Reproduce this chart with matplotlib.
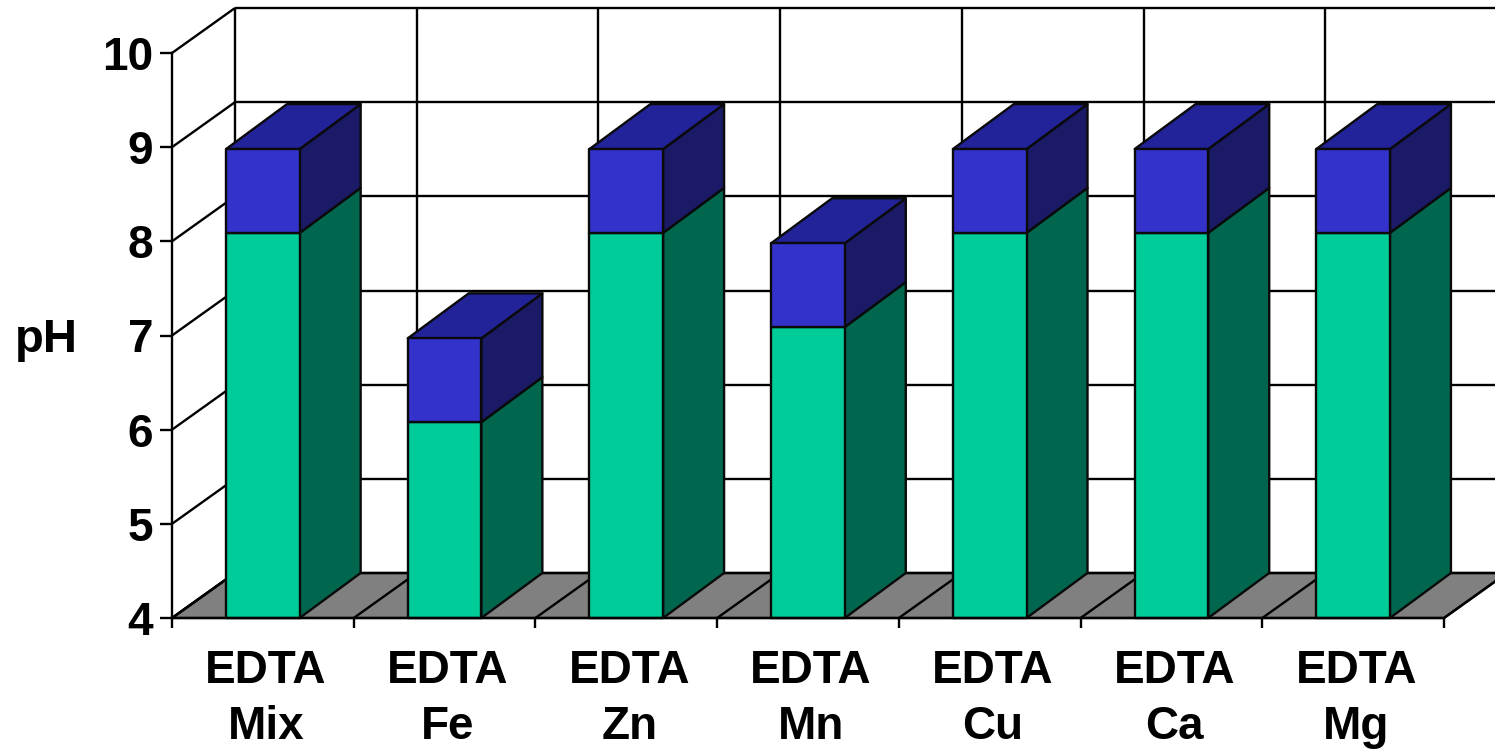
import matplotlib
matplotlib.use('Agg')
import matplotlib.pyplot as plt
from matplotlib.patches import Polygon

categories = ['EDTA\nMix', 'EDTA\nFe', 'EDTA\nZn', 'EDTA\nMn', 'EDTA\nCu', 'EDTA\nCa', 'EDTA\nMg']
green_tops = [8.09, 6.08, 8.09, 7.09, 8.09, 8.09, 8.09]
blue_heights = [0.89, 0.89, 0.89, 0.89, 0.89, 0.89, 0.89]
y_ticks = [4, 5, 6, 7, 8, 9, 10]

W, H = 1495, 752
plt.rcParams['font.family'] = ['Liberation Sans', 'DejaVu Sans']

fig = plt.figure(figsize=(W / 100, H / 100), dpi=100)
# axes is the front plane of the 3d box
x0, x1, y_top, y_bot = 172, 1444, 53, 618
ax = fig.add_axes([x0 / W, 1 - y_bot / H, (x1 - x0) / W, (y_bot - y_top) / H])
ax.set_xlim(0, 7)
ax.set_ylim(4, 10)
ax.patch.set_visible(False)

# depth of the box in data units
dx = 63 / ((x1 - x0) / 7)
dy = 45 / ((y_bot - y_top) / 6)
bar_dx = 61 / ((x1 - x0) / 7)
bar_w = 0.405
lw = 1.7


def face(points, color, z=2):
    ax.add_patch(Polygon(points, closed=True, facecolor=color, edgecolor='#0a0a0a',
                         linewidth=lw, clip_on=False, zorder=z, joinstyle='round'))


def line(xs, ys, z=1):
    ax.plot(xs, ys, color='black', lw=lw, clip_on=False, zorder=z, solid_capstyle='butt')


# floor
face([(0, 4), (7, 4), (7 + dx, 4 + dy), (dx, 4 + dy)], '#808080', 1)

# back wall and side wall grid
for v in y_ticks:
    line([0, dx], [v, v + dy])
    line([dx, 7 + dx], [v + dy, v + dy])
for i in range(8):
    line([i + dx, i + dx], [4 + dy, 10 + dy])
    line([i, i + dx], [4, 4 + dy], 1.5)

# bars
for i in range(len(categories)):
    left = i + 0.5 - bar_w / 2
    right = left + bar_w
    g = green_tops[i]
    b = g + blue_heights[i]
    face([(right, 4), (right + bar_dx, 4 + dy), (right + bar_dx, g + dy), (right, g)], '#00664d', 3)
    face([(right, g), (right + bar_dx, g + dy), (right + bar_dx, b + dy), (right, b)], '#1a1a66', 3)
    face([(left, b), (right, b), (right + bar_dx, b + dy), (left + bar_dx, b + dy)], '#222299', 3)
    face([(left, 4), (right, 4), (right, g), (left, g)], '#00cc99', 4)
    face([(left, g), (right, g), (right, b), (left, b)], '#3333cc', 4)

# axes
for s in ['top', 'right']:
    ax.spines[s].set_visible(False)
for s in ['left', 'bottom']:
    ax.spines[s].set_linewidth(lw)
    ax.spines[s].set_zorder(5)

ax.set_yticks(y_ticks)
ax.set_yticklabels([str(v) for v in y_ticks], fontsize=33, fontweight='bold')
ax.tick_params(axis='y', length=8.5, width=lw, pad=5)
ax.set_xticks(range(8))
ax.set_xticklabels([])
ax.tick_params(axis='x', which='major', length=7, width=lw)
# labels sit a little right of the bar centres in the original
ax.set_xticks([i + 0.517 for i in range(7)], minor=True)
ax.set_xticklabels(categories, minor=True, fontsize=33, fontweight='bold', linespacing=1.36)
ax.tick_params(axis='x', which='minor', length=0, pad=22)

fig.text(46 / W, 1 - 340 / H, 'pH', fontsize=34, fontweight='bold', ha='center', va='center')

fig.savefig('out.png', dpi=100)
